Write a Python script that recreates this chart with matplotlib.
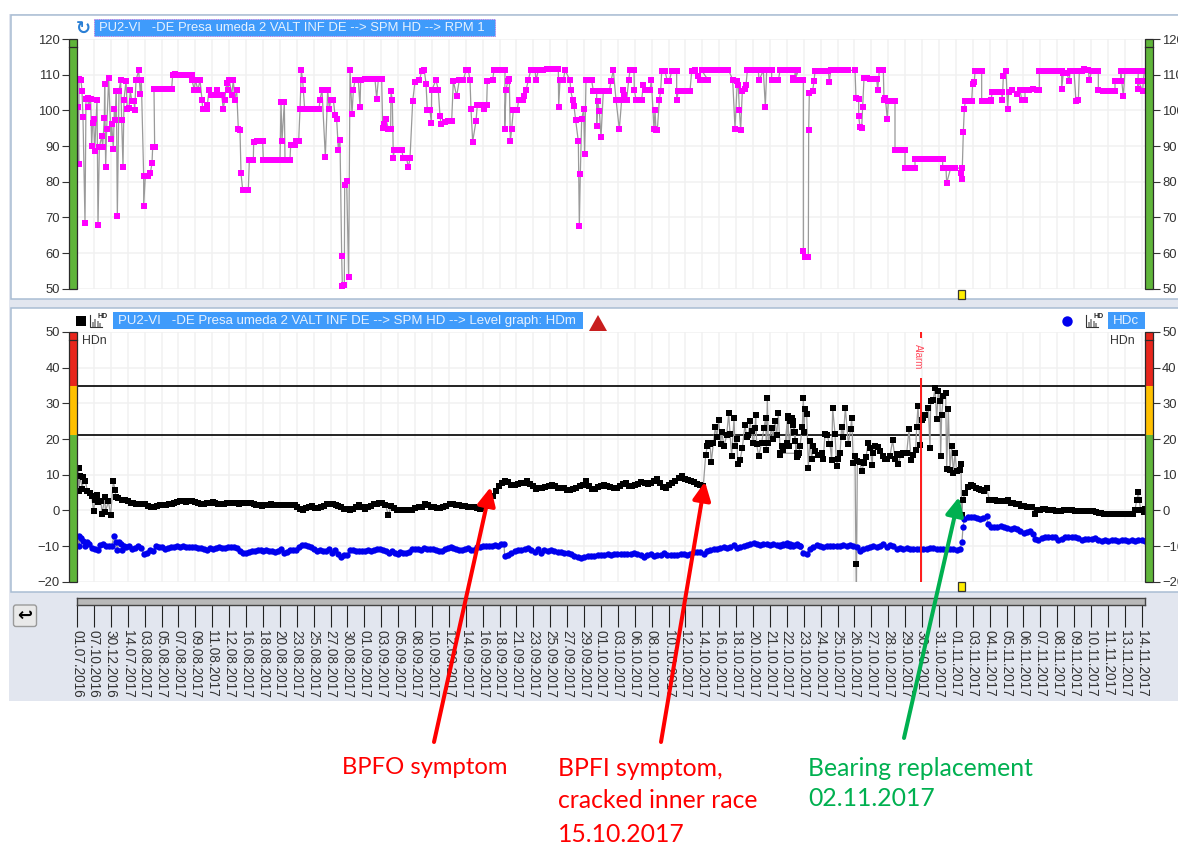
import numpy as np
import matplotlib
matplotlib.use("Agg")
import matplotlib.pyplot as plt
from matplotlib.patches import Rectangle, FancyBboxPatch, FancyArrowPatch, Polygon

W, H = 1178, 844
AX_LEFT, AX_RIGHT = 77, 1145
# sample position runs over 3 units per picture pixel, sections are read piece by piece
T_MAX = (AX_RIGHT - AX_LEFT) * 3
LEFT, MID, RIGHT = -231, 969, 2109
TICK_STEP = 50.7

date_labels = ["01.07.2016", "07.10.2016", "30.12.2016", "14.07.2017", "03.08.2017", "05.08.2017", "07.08.2017",
               "09.08.2017", "11.08.2017", "12.08.2017", "16.08.2017", "18.08.2017", "20.08.2017", "23.08.2017",
               "25.08.2017", "27.08.2017", "30.08.2017", "01.09.2017", "03.09.2017", "05.09.2017", "08.09.2017",
               "10.09.2017", "12.09.2017", "14.09.2017", "16.09.2017", "18.09.2017", "21.09.2017", "23.09.2017",
               "25.09.2017", "27.09.2017", "29.09.2017", "01.10.2017", "03.10.2017", "06.10.2017", "08.10.2017",
               "10.10.2017", "12.10.2017", "14.10.2017", "16.10.2017", "18.10.2017", "20.10.2017", "21.10.2017",
               "22.10.2017", "23.10.2017", "24.10.2017", "25.10.2017", "26.10.2017", "27.10.2017", "28.10.2017",
               "29.10.2017", "30.10.2017", "31.10.2017", "01.11.2017", "03.11.2017", "04.11.2017", "05.11.2017",
               "06.11.2017", "07.11.2017", "08.11.2017", "09.11.2017", "10.11.2017", "11.11.2017", "13.11.2017",
               "14.11.2017"]

# RPM series (position, value)
rpm_left = [(234,101),(236,85),(237,108.8),(243,108.4),(246,105.4),(249,98),(255,68.5),(258,103.2),(264,103.5),(265,101),
    (272,103.3),(275,90),(278,96.5),(281,97.5),(284,88.5),(291,103),(294,67.8),(298,89.7),(305,92.7),(308,89.7),
    (313,97.8),(314,107.3),(317,84.2),(320,94.8),(326,109),(333,92),(335,96.3),(340,89.3),(343,100.5),(346,97.2),
    (349,105.4),(352,70.5),(357,105.4),(362,108.4),(365,97.2),(369,84.2),(372,103),(378,108.2),(382,100.3),(387,100.7),
    (391,105.6),(395,102.7),(402,102.7),(404,100),(408,108.4),(416,111.2),(421,104.5),(424,108.6),(431,81.5),(431,73.3),
    (436,81.5),(445,81.5),(451,82.4),(456,85.2),(458,89.6),(464,89.6),(462,105.9),(472,105.9),(482,105.9),(492,105.9),
    (502,105.9),(515,105.9),(518,110),(525,110.2),(535,110),(545,110),(555,110),(565,110),(575,110),(576,108.5),
    (583,105.7),(586,108.5),(594,105.7),(600,108.5),(606,103),(608,100.3),(620,100.3),(622,101.5),(627,105.7),(634,104.3),
    (645,104.3),(652,105.7),(655,104.3),(665,104.3),(670,100.3),(674,103),(680,107.8),(684,105.7),(688,108.5),(695,104.3),
    (700,108.5),(704,103),(710,105.7),(715,94.7),(720,94.5),(723,82.3),(728,77.8),(737,77.8),(745,77.8),(748,86),
    (760,86),(761,91.2),(770,91.4),(780,91.4),(788,91.4),(790,86),(800,86),(810,86),(820,86),(828,86.2),(840,86),
    (843,102.3),(846,91.4),(853,102.3),(855,86.2),(863,86.2),(870,86.2),(872,90.2),(885,90.2),(888,91.4),(896,91.4),
    (900,100.3),(904,111.2),(908,108.4),(910,105.7),(914,100.3),(925,100.3),(935,100.3),(945,100.3),(957,100.3),(960,103),
    (966,105.7),(976,87),(983,105.7),(988,100.3),(992,103),(1000,103),(1005,98.7),(1010,97.5),(1015,89),(1020,91.7),
    (1025,59.3),(1027,50.8),(1033,51),(1034,79),(1040,80.2),(1046,53.3),(1050,111.2),(1056,99),(1060,105.6),(1065,108.4),
    (1075,108.4),(1080,101),(1082,108.4),(1095,108.7),(1105,108.7),(1115,108.7),(1125,108.7),(1130,103.3),(1135,108.7),(1145,108.7),
    (1148,95.1),(1152,96.3),(1158,97.5),(1165,94.8),(1172,94.8),(1173,105.3),(1177,102.8),(1180,86.5),(1183,89),(1195,89)]
rpm_mid = [(5,89),(10,86.5),(20,86.5),(25,84),(30,86.5),(38,102.5),(45,108),(58,108.4),(65,111),(73,111.2),(78,107.5),(82,100),
    (90,100),(94,96.5),(95,105.6),(108,108.5),(115,105.6),(120,98.4),(123,96.2),(135,96.8),(145,97),(155,97),(160,108.2),
    (170,104),(178,108.5),(190,108.5),(198,111.2),(205,111.2),(210,108.5),(213,100.3),(218,91.2),(228,97),(232,101.5),(245,101.5),
    (252,100.3),(260,101.5),(262,108.2),(278,108.6),(282,111.2),(295,111.2),(305,111.2),(315,111.2),(314,94.7),(318,105.6),(323,108.2),
    (328,108.7),(331,91.3),(335,94.7),(340,100.2),(352,100.2),(356,103),(368,103),(373,104),(378,105.6),(385,108.5),(392,111.2),
    (405,111.4),(408,108.5),(415,111.2),(430,111.2),(440,111.5),(450,111.5),(460,111.5),(475,111.5),(476,101),(480,108.5),(490,108.5),
    (495,111.2),(510,108.5),(512,105.6),(518,103),(522,101.2),(527,97.2),(535,91.3),(538,67.5),(541,82.2),(545,97.5),(551,100.3),
    (554,87.8),(558,108.4),(575,108.4),(580,105.4),(590,105.4),(590,95.6),(593,102.7),(598,99.8),(603,92.5),(610,105.4),(628,105.4),
    (633,108.2),(640,111.2),(648,103),(658,94.7),(665,103),(668,105.8),(672,104.3),(680,103),(686,108.4),(690,111.2),(702,111.2),
    (703,105.7),(708,103),(725,103),(730,107),(735,105.6),(750,105.6),(754,108.4),(762,94.7),(765,100),(768,94.4),(772,94.4),(778,103),
    (782,105.4),(785,110.9),(795,110.9),(802,108.3),(808,108.3),(815,111),(830,111),(830,103),(835,105.4),(845,105.4),(855,105.4),(870,105.4),
    (875,111),(885,111.2),(895,109.5),(900,108.4),(912,108.4),(925,108.4),(905,111.2),(920,111.2),(935,111.2),(950,111.2),(965,111.2),(985,111.4),
    (998,108.6),(1005,94.9),(1012,108.3),(1015,107),(1018,100.2),(1022,94.5),(1027,105.5),(1035,106),(1038,107),(1042,111.2),(1055,111.2),
    (1065,111.2),(1075,111.2),(1077,108.4),(1090,111.2),(1096,101),(1100,111.2),(1115,111.2),(1115,108.4),(1135,108.4),(1140,111.2),
    (1155,111.2),(1170,111.2),(1185,111.2),(1185,108.5),(1195,111.2)]
rpm_right = [(5,111.2),(20,111.2),(35,111.2),(55,111.2),(40,109),(40,108.5),(55,108.5),(70,108.5),(70,60.7),(75,59),(85,59),(86,94.5),
    (88,105),(98,105.5),(102,108.2),(105,110.9),(118,110.9),(130,110.9),(145,110.9),(148,107.9),(152,111.2),(165,111.4),(178,111.2),
    (190,111.2),(205,111.2),(225,111.2),(228,103.5),(236,103.2),(236,98.4),(240,95.2),(245,95),(248,101),(252,109),(260,109),(270,108.9),
    (280,108.9),(290,108.9),(293,105.6),(298,111.2),(310,111.2),(312,103),(316,103.5),(322,97.5),(325,102.7),(335,102.7),(345,102.7),
    (345,89),(355,89),(365,89),(375,89),(375,83.8),(385,83.8),(395,83.8),(405,83.8),(405,86.3),(415,86.3),(428,86.3),(440,86.3),(452,86.3),
    (465,86.3),(478,86.3),(488,86.3),(488,83.8),(498,83.8),(500,79.6),(512,83.8),(525,83.8),(545,83.8),(543,82.3),(546,80.8),(550,94),
    (553,100.4),(556,102.5),(565,102.5),(575,102.5),(578,107.5),(583,108),(585,110.9),(595,110.9),(605,110.9),(605,102.5),(618,102.5),
    (632,102.5),(634,102.9),(636,105.2),(650,105.2),(665,105.2),(667,103),(670,109.5),(678,110.9),(683,100.3),(686,105.2),(695,105.7),
    (712,104.6),(720,105.7),(725,103),(735,103),(735,105.7),(748,105.7),(760,106),(770,105.7),(778,105.7),(778,111),(790,111),(802,111),
    (815,111),(830,111),(845,111),(845,106),(850,110.6),(860,110.6),(868,108.2),(870,110.9),(882,110.9),(888,102.5),(895,102.8),(898,110.9),
    (905,111),(912,111.6),(925,111.2),(928,108.5),(935,111),(945,111),(955,111),(955,105.6),(970,105.3),(982,105.3),(995,105.3),(1005,105.3),
    (1005,108.2),(1022,108.2),(1022,110.9),(1030,104),(1035,110.9),(1048,110.9),(1060,110.9),(1075,110.9),(1073,106),(1075,108.2),(1088,105.5),
    (1090,108.2),(1093,110.9)]

# HDm level series (black)
hdm_start = [(236,11.8),(236,5.5),(240,9.5),(247,6),(250,9.3),(256,8.2),(262,5.5),(270,4.8),(275,4),(281,-0.3),(285,3),(292,4.2),(295,2.4),
    (303,2.5),(306,-0.9),(315,3.7),(316,-0.5),(325,2.5),(332,-1.2),(340,8.2),(345,5.7),(348,3.8),(355,3.5),(365,2.8)]
hdm_quiet = [2.8,2.5,2.2,2,1.8,1.8,1.9,1.8,1.2,1,1,1.2,1.4,1.5,1.6,1.7,1.9,2,2.3,2.5,2.5,2.4,2.5,2.5,2.3,2.1,1.8,1.9,2,2.2,2.4,2.1,1.9,1.8,
    1.9,2,2.1,2.2,2,1.9,2,2.1,2.2,2,1.8,1.5,1.4,1.3,1.5,1.6,1.7,1.6,1.5,1.4,1.5,1.6,1.5,1.4,1.5,1,0.3,0.2,0.8,1,1.1,0.7,0.6,1,1.2,1.7,1.9,
    1.8,1.5,1.3,1,0.5,0.3,0.2,0.5,1,1.6,1,0.4,0.9,1.2,1.7,1.9,2.1,2,1.6,-1.2,1.3,0.8,0.2,0.2]
hdm_bpfo = [0.2,0.2,0.1,0.1,0.2,0.6,0.9,1,1.8,1.4,1,0.9,0.8,0.8,1,1.3,1.9,1.7,1.6,1.4,1.3,1.2,1,0.9,0.9,0.6,0.4,0.7,1.1,2.4,4,5.5,6.8,7.6,8.2,8,
    7.1,7,7.4,7.6,7.8,8.2,7.5,6.7,6.1,6.2,6.3,6.5,6.8,7.2,6.7,6.3,6.3,6.2,5.7,5.7,5.9,6.3,6.9,7.2,8.2,6.7,5.9,6,6.5,6.8,7,6.8,6.5,6.4,6.3,6.8,
    7.3,7.6,6.9,6.7,7.2,7.5,7.9,7.7,7.4,7.7,8.1,8.7,7.6,6.6,6.2,7.1,7.7,8.2,9,9.7,8.9,8.6,8.3,8,7.4,7.1,6.9]
hdm_bpfi_a = [(917,15.5),(922,18),(925,19),(930,18.7),(934,13.5),(940,18.8),(946,23.5),(950,20.5),(956,25.2),(962,18.5),(965,22),(972,18),(980,21),
    (986,27.2),(990,21.5),(995,15.3),(1002,25.8),(1005,18),(1010,20),(1014,13),(1020,14),(1027,17.5),(1035,24),(1040,20.5),(1045,21),(1050,25),
    (1055,22.2),(1060,18.8),(1065,23),(1067,26.8),(1070,18.5),(1076,15.2),(1085,19),(1092,23),(1097,26),(1099,16.8),(1102,31.5),(1105,19),(1115,23),
    (1118,20),(1125,25),(1130,21),(1135,27.2),(1141,15.5),(1148,17),(1155,18),(1163,26.5),(1168,18),(1175,26),(1180,25),(1185,22),(1190,15),(1197,16)]
hdm_bpfi_b = [(0,16),(5,18),(15,18),(20,19),(24,26),(30,25),(38,24),(42,22),(45,19.5),(50,16),(55,15.5),(60,18),(67,23.5),(70,31.4),(72,22),(75,28.5),
    (80,27),(85,12),(90,19.5),(95,14.5),(100,18),(105,16.5),(115,15.5),(125,16),(130,14.5),(135,21.5),(142,21),(148,18.7),(150,18.7),(155,14),(158,28.7),
    (165,21.5),(170,12.3),(175,14.5),(180,16),(185,23.5),(190,20.5),(196,28.7),(205,18.7),(212,22.8),(215,26),(220,13.3),(225,15.3),(228,-15),(229,-26),
    (232,13.8),(240,13.5),(245,11),(252,13.3),(258,15),(265,19),(270,17.5),(277,12.8),(278,16),(285,18),(295,17.7),(300,16.5),(310,15.3),(315,14.5),(322,14.5),
    (330,15.3),(338,19.7),(345,14.5),(350,15.7),(355,13),(362,15.5),(370,16),(380,16),(387,22.7),(393,14),(400,15.5),(407,17),(410,23.3),(414,29.3),(420,18.2),
    (425,25.2),(430,26),(436,26.7),(445,28.7),(450,17.5),(452,30.7),(460,31),(465,34.2),(470,25.7),(475,33.5),(480,30.7),(482,15.3),(485,26.7),(490,32),
    (497,33),(500,11.5),(505,28.3),(510,11.2),(515,18),(520,10.5),(525,16),(530,11),(540,11.2),(543,13),(545,-1.3)]
hdm_after = [3.0,4.8,6.6,7.1,6.7,6.3,6.1,5.7,5.3,6.2,3.0,2.9,2.8,2.7,2.5,2.5,2.6,2.8,2.1,2.0,1.9,1.8,1.3,1.1,1.0,0.9,0.9,-0.9,0.1,0.2,0.3,0.3,0.2,0.1,0,
    -0.1,-0.2,-0.1,0,0,0.1,0,-0.1,-0.2,-0.2,-0.3,-0.3,-0.3,-0.2,-0.2,-0.4,-0.7,-0.8,-0.9,-1,-1.1,-1.1,-1.1,-1.1,-1.1,-1.1,-1.1,-1.1,-1.1,-0.9]
hdm_end = [(1065,0.2),(1070,2.8),(1075,5.1),(1078,2.8),(1082,0),(1088,0.2),(1092,-0.5),(1095,0.3)]

# HDc level series (blue)
hdc_start = [(236,-7.3),(236,-10),(242,-7.8),(248,-8.5),(255,-10),(262,-9),(268,-9.5),(275,-10.5),(285,-10.7),(295,-11),(300,-9.8),(310,-9.5),(318,-10),
    (328,-10),(335,-10),(342,-7.2),(348,-8.8),(352,-11),(356,-8.9),(362,-9.5),(367,-11),(372,-10)]
hdc_a = [-10.3,-10,-10.8,-10.6,-9.9,-10.6,-12.2,-12,-11,-11.5,-10,-10.3,-10.4,-10.7,-10.5,-10.4,-10.2,-10.1,-10.3,-10,-10.3,-10.4,-10.3,-10.4,-10.5,-10.6,
    -10.9,-11.2,-10.5,-10.7,-10.5,-10.4,-10.6,-10.5,-10.3,-10.2,-10.2,-10.5,-11.3,-11.9,-12,-11.8,-11.4,-11.3,-11.2,-11,-11.3,-11.2,-11.4,-11.3,-11.8,-11.5,
    -10.8,-11.9,-11.6,-11.2,-11.1,-11.1,-10.4,-9.7,-9.6,-10,-10.4,-10.7,-11.3,-11,-11.5,-11.4,-10.8,-11.9,-11.2,-12.2,-13.1,-12.6,-12.5,-11,-11.2,-11.3,-11.5,
    -11.3,-11.4,-11.2,-11.3,-11,-10.7,-10.7,-11,-11.5,-11.9,-11.4,-12,-12.2]
hdc_b = [-11.6,-11.9,-12,-11.6,-10.9,-10.8,-10.9,-11,-10.6,-10.8,-10.7,-10.8,-11,-11.3,-11.5,-10.7,-10.6,-10.4,-10.6,-10.7,-11,-11,-10.9,-10.6,-11.1,-11.2,
    -10.4,-10.2,-10.1,-10,-10.1,-10,-9.8,-9.9,-9.5,-9.4]
hdc_c = [-12.8,-12.5,-12,-11.4,-11.2,-11,-10.8,-10.6,-11,-11.7,-10.8,-11.9,-11.2,-11.3,-11.2,-11.5,-11.7,-11.8,-12,-12,-12.3,-12.8,-13.2,-13.4,-13,-12.8,-12.9,
    -12.8,-12.6,-12.6,-12.5,-12.3,-12.5,-12.2,-12.1,-12.1,-12.1,-12.3,-12.2,-12,-12.2,-12.4,-13,-12.4,-12.2,-12.7,-12.4,-12.5,-12,-12.5,-12.6,-12.5,-12.4,-12.2,
    -12.3,-12.5,-12.2,-11.7,-11.6,-11.7,-12.1,-11.3,-11.2,-10.9,-10.7,-10.5,-10.4,-10.5,-10.2,-9.8,-10.5,-10.2,-10.1,-9.8,-9.4,-9.2,-9.4,-9.6,-9.4,-9.5,-9.6,-9.5,
    -9.6,-9.6,-9.5,-9.2,-9.4,-9.6,-9.4,-10]
hdc_d = [-10,-9.8,-9.7,-9.9,-10.1,-9.8,-9.9,-12,-12.1,-10.8,-10.4,-9.8,-10.1,-10.4,-9.9,-10,-10.1,-10.1,-9.9,-9.7,-10,-9.8,-10,-10.4,-11.4,-10.7,-10.5,-10.3,-10.1,
    -10.3,-9.9,-9.4,-10.2,-9.8,-10.1,-10.7,-10.5,-10.7,-10.6,-10.7,-10.7,-10.8,-10.8,-10.8,-10.7,-10.5,-10.6,-10.7,-10.8,-10.9,-10.7,-10.7,-10.8,-11,-10.8]
hdc_jump = [(546,-8.8),(549,-4.6)]
hdc_e = [-2.3,-2,-1.9,-1.8,-2.2,-2.5,-2.2,-1.5]
hdc_f = [-3.9,-4.7,-4.8,-4.8,-4.5,-4.7,-4.9,-5.1,-5,-5.2,-5.7,-6.3,-6.1,-5.9,-6.7]
hdc_g = [-8.1,-8.2,-7.7,-7.4,-7.4,-7.5,-7.5,-8.2,-7.9,-7.4,-7.6,-7.4,-7.6,-7.8,-8.2,-8.1,-8,-7.9,-7.7,-8.2,-8.5,-8.3,-8.5,-8.4,-8.4,-8.6,-8.4,-8.4,-8.5,-8.3,-8.5,-8.3,-8.4,-8.5]

alarm_limit = 35
warn_limit = 21
alarm_pos = 2531


def pairs(points, start):
    arr = np.array(points, dtype=float)
    return arr[:, 0] + start, arr[:, 1]


def run(values, first, last, start):
    return np.linspace(first, last, len(values)) + start, np.array(values, dtype=float)


def join(*parts):
    return np.concatenate([p[0] for p in parts]), np.concatenate([p[1] for p in parts])


def px_axes(left, top, right, bottom):
    return fig.add_axes([left / W, 1 - bottom / H, (right - left) / W, (bottom - top) / H])


def level_bars(ax, bands, mark):
    # coloured scale strips on both sides, drawn outside the plot area
    tr = ax.get_yaxis_transform()
    wid = 8 / (AX_RIGHT - AX_LEFT)
    for x0 in (-wid, 1):
        for lo, hi, col in bands:
            ax.add_patch(Rectangle((x0, lo), wid, hi - lo, transform=tr, fc=col, ec="none", clip_on=False, zorder=5))
        lo, hi = bands[0][0], bands[-1][1]
        ax.add_patch(Rectangle((x0, lo), wid, hi - lo, transform=tr, fc="none", ec="#2a2a2a", lw=0.9, clip_on=False, zorder=6))
        ax.plot([x0, x0 + wid], [mark, mark], transform=tr, color="#2a2a2a", lw=0.9, clip_on=False, zorder=6)


def style_chart(ax, ylim, step):
    ax.set_xlim(0, T_MAX)
    ax.set_ylim(*ylim)
    ax.set_xticks(ticks)
    ax.set_yticks(np.arange(ylim[0], ylim[1] + 1, step))
    ax.grid(True, color="#f1f1f1", lw=1.1)
    ax.set_axisbelow(True)
    for s in ax.spines.values():
        s.set_visible(False)
    ax.spines["left"].set_position(("outward", 5.8))
    ax.spines["right"].set_position(("outward", 5.8))
    ax.tick_params(axis="x", length=0, labelbottom=False)
    ax.tick_params(axis="y", left=True, right=True, labelleft=True, labelright=True, length=5, width=0.8,
                   color="#333333", labelcolor="#333333", labelsize=9.4, pad=1.5)


def hd_icon(x, y):
    ov.plot([x, x, x + 12], [y, y + 12, y + 12], color="#333333", lw=0.8)
    for dx, hgt in ((2.5, 5), (5, 8), (7.5, 6), (10, 4)):
        ov.add_patch(Rectangle((x + dx - 1, y + 12 - hgt), 2, hgt, fc="#999999", ec="none"))
    ov.text(x + 13, y + 1, "HD", fontsize=5, fontweight="bold", color="#222222", ha="center", va="center")


def title_box(x0, x1, y0, y1, label, ec, size):
    ov.add_patch(Rectangle((x0, y0), x1 - x0, y1 - y0, fc="#3f9bfb", ec=ec, lw=0.6, ls=":" if ec != "none" else "-"))
    ov.text(x0 + 5, (y0 + y1) / 2 + 0.3, label, color="#e6f1ff", fontsize=size, va="center", ha="left", family="Liberation Sans")


plt.rcParams["font.family"] = ["Liberation Sans", "DejaVu Sans"]
fig = plt.figure(figsize=(W / 100, H / 100), dpi=100, facecolor="white")
ticks = np.arange(len(date_labels)) * TICK_STEP

# page background and the two white panels
bg = fig.add_axes([0, 0, 1, 1], zorder=0)
bg.set_xlim(0, W)
bg.set_ylim(H, 0)
bg.axis("off")
bg.add_patch(Rectangle((9, 14), W - 9, 687, fc="#e2e6ef", ec="none"))
for top, bottom in ((15, 299), (308, 592)):
    bg.add_patch(Rectangle((11, top), W, bottom - top, fc="white", ec="#a9bdd3", lw=1.1))

# upper chart
ax1 = px_axes(AX_LEFT, 39, AX_RIGHT, 288.7)
ax1.set_zorder(1)
style_chart(ax1, (50, 120), 10)
rx, ry = join(pairs(rpm_left, LEFT), pairs(rpm_mid, MID), pairs(rpm_right, RIGHT))
ax1.plot(rx, ry, color="#9a9a9a", lw=0.9, zorder=3)
ax1.plot(rx, ry, ls="none", marker="s", ms=4.3, mew=0, color="#ff00ff", zorder=4)
level_bars(ax1, [(50, 120, "#5fb53a")], 117.7)

# lower chart
ax2 = px_axes(AX_LEFT, 332, AX_RIGHT, 581.7)
ax2.set_zorder(1)
style_chart(ax2, (-20, 50), 10)
ax2.hlines([alarm_limit, warn_limit], 0, T_MAX, color="#111111", lw=1.3, zorder=2)
hx, hy = join(pairs(hdm_start, LEFT), run(hdm_quiet, 374, 1200, LEFT), run(hdm_bpfo, 0, 910, MID),
              pairs(hdm_bpfi_a, MID), pairs(hdm_bpfi_b, RIGHT), run(hdm_after, 548, 1060, RIGHT), pairs(hdm_end, RIGHT))
ax2.plot(hx, hy, color="#9a9a9a", lw=0.9, zorder=3)
ax2.plot(hx, hy, ls="none", marker="s", ms=4.3, mew=0, color="black", zorder=4)
cx, cy = join(pairs(hdc_start, LEFT), run(hdc_a, 378, 1194, LEFT), run(hdc_b, 0, 312, MID), run(hdc_c, 314, 1200, MID),
              run(hdc_d, 0, 540, RIGHT), pairs(hdc_jump, RIGHT), run(hdc_e, 553, 620, RIGHT), run(hdc_f, 623, 760, RIGHT),
              run(hdc_g, 765, 1095, RIGHT))
ax2.plot(cx, cy, color="#9a9a9a", lw=0.9, zorder=3)
ax2.plot(cx, cy, ls="none", marker="o", ms=4.6, mew=0, color="#0000ee", zorder=4)
ax2.vlines(alarm_pos, -20, 37, color="#ff1a1a", lw=1.4, zorder=4)
ax2.vlines(alarm_pos, 48.4, 50, color="#ff1a1a", lw=1.4, zorder=4)
ax2.text(alarm_pos - 9, 43.1, "Alarm", rotation=270, color="#ff4d5e", fontsize=7, ha="center", va="center")
level_bars(ax2, [(-20, warn_limit, "#5fb53a"), (warn_limit, alarm_limit, "#ffc000"), (alarm_limit, 50, "#e8261c")], 47.8)

# scroll bar with the date ticks
ax3 = px_axes(AX_LEFT, 597.5, AX_RIGHT, 605)
ax3.set_zorder(1)
ax3.set_xlim(0, T_MAX)
ax3.set_facecolor("#b9b9b9")
ax3.set_yticks([])
ax3.set_xticks(ticks)
ax3.set_xticklabels(date_labels, rotation=270, ha="center", va="top")
ax3.tick_params(axis="x", length=15.8, width=0.8, color="#222222", labelcolor="#333333", labelsize=9.8, pad=2.5)
for s in ax3.spines.values():
    s.set_color("#444444")
    s.set_linewidth(1)

# overlay in picture pixels for the window furniture and the notes
ov = fig.add_axes([0, 0, 1, 1], zorder=5)
ov.set_xlim(0, W)
ov.set_ylim(H, 0)
ov.axis("off")

ov.text(83.5, 28.5, "\u21bb", family="DejaVu Sans", fontsize=13, fontweight="bold", color="#2a7fd5", ha="center", va="center")
title_box(94, 495, 19, 36, "PU2-VI   -DE Presa umeda 2 VALT INF DE --> SPM HD --> RPM 1", "#d24fd2", 9.4)
ov.add_patch(Rectangle((76, 316), 10, 10, fc="black", ec="none"))
hd_icon(90, 315)
title_box(113, 583, 312, 329, "PU2-VI   -DE Presa umeda 2 VALT INF DE --> SPM HD --> Level graph: HDm", "none", 9.5)
ov.add_patch(Polygon([[589, 331], [598, 315], [607, 331]], closed=True, fc="#c81e1e", ec="none"))
ov.plot([1067], [321], marker="o", ms=7.5, mew=0, color="#0000ee")
hd_icon(1086, 315)
title_box(1108, 1144.5, 312, 329, "HDc", "none", 9.6)
for x in (82, 1110):
    ov.text(x, 341, "HDn", fontsize=8.8, color="#333333", ha="left", va="center")

for y0 in (290, 582):
    ov.add_patch(Rectangle((957.7, y0), 7, 9, fc="#ffee00", ec="#333333", lw=0.9))

ov.add_patch(FancyBboxPatch((13.5, 605), 23, 21.5, boxstyle="round,pad=0,rounding_size=2.5", fc="#e9e9e9", ec="#9a9a9a", lw=1))
ov.text(25, 615.5, "\u21a9", family="DejaVu Sans", fontsize=13, fontweight="bold", color="black", ha="center", va="center")

for tail, tip, col in (((434, 742), (490.7, 487), "#ff0000"), ((661, 742), (705, 481.7), "#ff0000"), ((904, 738), (959, 497), "#00b050")):
    ov.add_patch(FancyArrowPatch(tail, tip, arrowstyle="-|>,head_length=0.55,head_width=0.27", mutation_scale=20,
                                 color=col, lw=2.9, shrinkA=0, shrinkB=0))

note = dict(family="Lato", fontsize=17.8, va="center", ha="left")
ov.text(342, 768, "BPFO symptom", color="#ff0000", family="Lato", fontsize=17.2, va="center", ha="left")
ov.text(558, 769, "BPFI symptom,", color="#ff0000", **note)
ov.text(558, 801, "cracked inner race", color="#ff0000", **note)
ov.text(558, 834, "15.10.2017", color="#ff0000", **note)
ov.text(808, 769, "Bearing replacement", color="#00b050", **note)
ov.text(808, 798, "02.11.2017", color="#00b050", **note)

fig.savefig("out.png", dpi=100)
